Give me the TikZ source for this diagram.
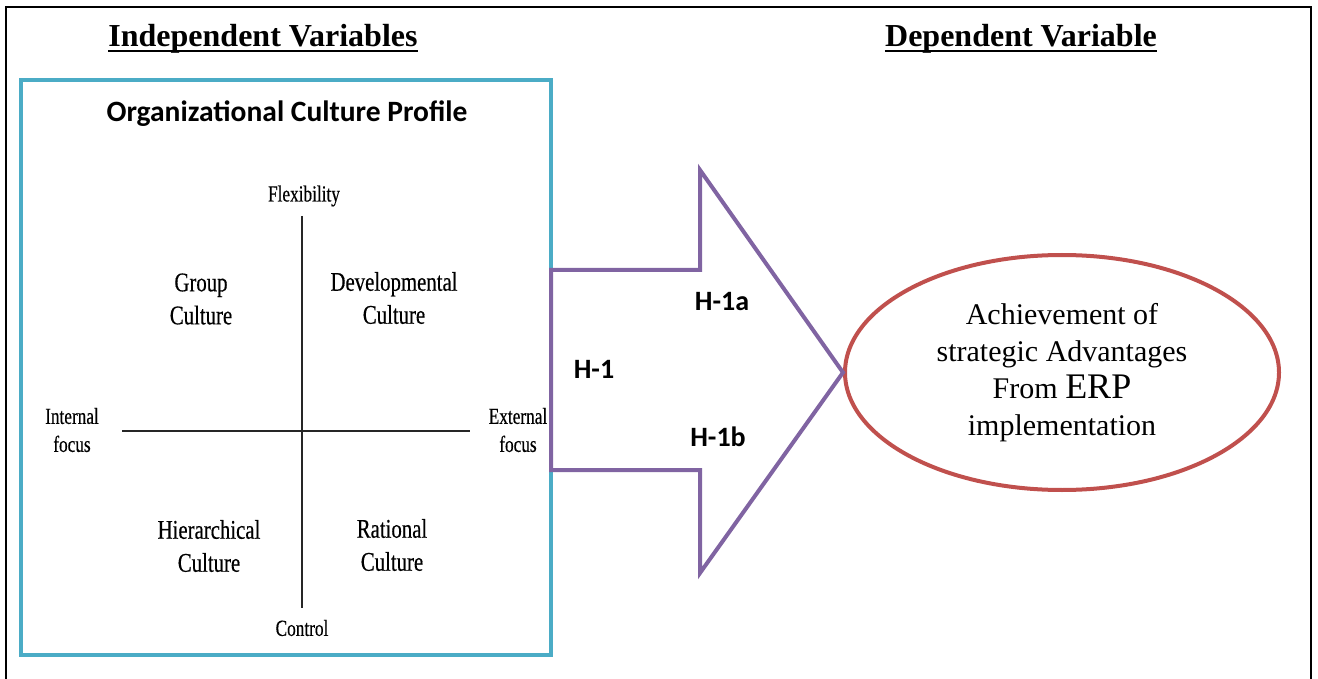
\documentclass[tikz,border=0pt]{standalone}
\usepackage{fontspec}
\setmainfont{Liberation Serif}
\newfontfamily\calibri{Carlito}
\newfontfamily\scanfont[FakeStretch=0.77,FakeBold=0.4]{Liberation Serif}
\newfontfamily\scanfontsmall[FakeStretch=0.75,FakeBold=0.4]{Liberation Serif}
\usetikzlibrary{shapes.geometric}
\definecolor{boxblue}{RGB}{75,172,198}
\definecolor{arrowpurple}{RGB}{128,100,162}
\definecolor{ellred}{RGB}{192,80,77}
\begin{document}
\begin{tikzpicture}[x=1pt,y=-1pt,
  title/.style={font=\fontsize{32}{38}\selectfont\bfseries, inner sep=0pt, anchor=base},
  scan/.style={font=\scanfont\fontsize{27}{33}\selectfont, align=center, inner sep=0pt},
  scansmall/.style={font=\scanfontsmall\fontsize{23}{28}\selectfont, align=center, inner sep=0pt},
  hlabel/.style={font=\calibri\bfseries\fontsize{28}{32}\selectfont, inner sep=0pt},
  axis/.style={line width=1.5pt, black!85},
  uline/.style={line width=2.5pt}]
\useasboundingbox (0,0) rectangle (1318,679);
% outer frame
\draw[line width=1.2pt] (6,679) -- (6,7) -- (1311,7) -- (1311,679);
% titles
\node[title] (iv) at (263,47) {Independent Variables};
\draw[uline] ([yshift=-4pt]iv.base west) -- ([yshift=-4pt]iv.base east);
\node[title] (dv) at (1021,47) {Dependent Variable};
\draw[uline] ([yshift=-4pt]dv.base west) -- ([yshift=-4pt]dv.base east);
% blue box
\node[draw=boxblue, line width=4pt, minimum width=530pt, minimum height=575pt, inner sep=0pt] (ocp) at (286,367.5) {};
\node[font=\calibri\bfseries\fontsize{29.5}{34}\selectfont, anchor=base, inner sep=0pt] (ocptitle) at (287,122) {Organizational Culture Profile};
% quadrant
\node[scansmall] (flex) at (304,196) {Flexibility};
\node[scansmall] (ctrl) at (302,628) {Control};
\node[scansmall] (intf) at (72,430) {Internal\\focus};
\node[scansmall] (extf) at (518,430) {External\\focus};
\coordinate (vtop) at (302,216);
\coordinate (vbot) at (302,608);
\coordinate (hleft) at (122,431);
\coordinate (hright) at (470,431);
\draw[axis] (vtop) -- (vbot);
\draw[axis] (hleft) -- (hright);
\node[scan] (grp) at (201,299) {Group\\Culture};
\node[scan] (dev) at (394,298) {Developmental\\Culture};
\node[scan] (hier) at (209,546) {Hierarchical\\Culture};
\node[scan] (rat) at (392,545) {Rational\\Culture};
% ellipse
\node[ellipse, draw=ellred, line width=4pt, minimum width=434pt, minimum height=235pt, inner sep=0pt, align=center, font=\fontsize{30}{37}\selectfont] (ell) at (1062,372.5) {Achievement of\\ strategic Advantages\\ From {\fontsize{36}{37}\selectfont ERP}\\ implementation};
% arrow
\draw[arrowpurple, line width=4pt, line join=miter] (551,270) -- (700,270) -- (700,170) -- (ell.west) -- (700,573) -- (700,470) -- (551,470) -- cycle;
\node[hlabel] (h1) at (594,369) {H-1};
\node[hlabel] (h1a) at (722,302) {H-1a};
\node[hlabel] (h1b) at (718,437) {H-1b};
\end{tikzpicture}
\end{document}
